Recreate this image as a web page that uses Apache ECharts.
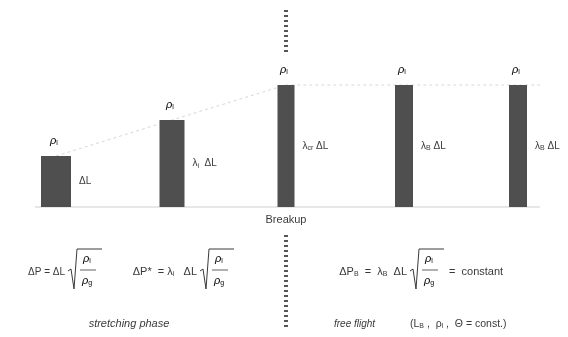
<!DOCTYPE html>
<html>
<head>
<meta charset="utf-8">
<script src="https://cdn.jsdelivr.net/npm/echarts@6/dist/echarts.min.js"></script>
<style>
  html, body { margin: 0; padding: 0; background: #fff; }
  #chart { width: 568px; height: 337px; }
</style>
</head>
<body>
<div id="chart"></div>
<script>
// ligament stages: column position, length and thickness (diagram units)
const stageX = [56, 172, 286, 404, 518];
const stageLength = [51, 87, 122, 122, 122];
const stageWidth = [30, 25, 17, 18, 18];
const topLabels = ['{i|ρ}{s|l}', '{i|ρ}{s|l}', '{i|ρ}{s|l}', '{i|ρ}{s|l}', '{i|ρ}{s|l}'];
const sideLabels = ['ΔL', 'λ{s|i}  ΔL', 'λ{s|cr} ΔL', 'λ{s|B} ΔL', 'λ{s|B} ΔL'];

// baseline and the breakup marker
const baseExtent = [35, 540];
const breakupX = 286;
const breakupUpper = [197, 155];
const breakupLower = [-28, -123];

const INK = '#3a3a3a';
const FONT = '"Liberation Sans", Arial, sans-serif';

const rich = {
  i: { fontSize: 11, fontStyle: 'italic', fontFamily: FONT, color: INK },
  s: { fontSize: 7, fontFamily: FONT, color: INK, verticalAlign: 'bottom', padding: [5, 0, 0, 0] }
};

const chart = echarts.init(document.getElementById('chart'), null, { renderer: 'canvas' });

// 公式: 前缀(右对齐到根号) + 根号(ρl/ρg) + 后缀
function formula(y, prefix, radX, size, suffix) {
  const els = [
    {
      type: 'text', x: radX - 3, y: y,
      style: { text: prefix, rich: rich, font: size + 'px ' + FONT, fill: INK, align: 'right', verticalAlign: 'middle' }
    },
    {
      type: 'polyline', x: radX, y: y - 23,
      shape: { points: [[0, 22], [3, 20], [6, 40], [9, 0], [34, 0]] },
      style: { stroke: INK, lineWidth: 1, fill: null }
    },
    {
      type: 'text', x: radX + 19, y: y - 13,
      style: { text: '{i|ρ}{s|l}', rich: rich, align: 'center', verticalAlign: 'middle' }
    },
    {
      type: 'line', shape: { x1: radX + 12, y1: y - 2, x2: radX + 28, y2: y - 2 },
      style: { stroke: INK, lineWidth: 0.8 }
    },
    {
      type: 'text', x: radX + 19, y: y + 9,
      style: { text: '{i|ρ}{s|g}', rich: rich, align: 'center', verticalAlign: 'middle' }
    }
  ];
  if (suffix) {
    els.push({
      type: 'text', x: radX + 39, y: y,
      style: { text: suffix, font: size + 'px ' + FONT, fill: INK, verticalAlign: 'middle' }
    });
  }
  return els;
}

const graphic = [
  {
    type: 'text', x: 286, y: 220,
    style: { text: 'Breakup', font: '11px ' + FONT, fill: INK, align: 'center', verticalAlign: 'middle' }
  },
  ...formula(272, 'ΔP = ΔL', 68, 10),
  ...formula(272, 'ΔP*  = λ{s|i}   ΔL', 200, 11),
  ...formula(272, 'ΔP{s|B}  =  λ{s|B}  ΔL', 410, 11, '=  constant'),
  {
    type: 'text', x: 129, y: 324,
    style: { text: 'stretching phase', font: 'italic 11px ' + FONT, fill: INK, align: 'center', verticalAlign: 'middle' }
  },
  {
    type: 'text', x: 334, y: 324,
    style: { text: 'free flight', font: 'italic 10px ' + FONT, fill: INK, verticalAlign: 'middle' }
  },
  {
    type: 'text', x: 410, y: 324,
    style: {
      text: '(L{s|B} ,  ρ{s|l} ,  Θ = const.)', rich: rich,
      font: '10.5px ' + FONT, fill: INK, verticalAlign: 'middle'
    }
  }
];

const columns = stageX.map((x, i) => [x, stageLength[i], stageWidth[i], i]);

chart.setOption({
  backgroundColor: '#fff',
  animation: false,
  grid: { left: 0, right: 0, top: 0, bottom: 0 },
  xAxis: { type: 'value', min: 0, max: 568, show: false },
  yAxis: { type: 'value', min: -130, max: 207, show: false },
  graphic: graphic,
  series: [
    {
      // faint guide through the column tops
      type: 'line',
      data: stageX.map((x, i) => [x, stageLength[i]]).concat([[baseExtent[1], stageLength[4]]]),
      symbol: 'none',
      silent: true,
      z: 1,
      lineStyle: { color: '#d8d8d8', width: 1, type: [3, 3] }
    },
    {
      type: 'line',
      data: [[baseExtent[0], 0], [baseExtent[1], 0]],
      symbol: 'none',
      silent: true,
      z: 1,
      lineStyle: { color: '#cfcfcf', width: 1.2 }
    },
    {
      type: 'line',
      data: breakupUpper.map(v => [breakupX, v]),
      symbol: 'none',
      silent: true,
      lineStyle: { color: '#555', width: 4, type: [2, 3] }
    },
    {
      type: 'line',
      data: breakupLower.map(v => [breakupX, v]),
      symbol: 'none',
      silent: true,
      lineStyle: { color: '#555', width: 4, type: [2, 3] }
    },
    {
      type: 'custom',
      z: 3,
      data: columns,
      renderItem: (params, api) => {
        const cx = api.value(0), len = api.value(1), w = api.value(2), idx = api.value(3);
        const tl = api.coord([cx - w / 2, len]);
        const br = api.coord([cx + w / 2, 0]);
        const mid = api.coord([cx + w / 2, len / 2]);
        return {
          type: 'group',
          children: [
            {
              type: 'rect',
              shape: { x: tl[0], y: tl[1], width: br[0] - tl[0], height: br[1] - tl[1] },
              style: { fill: '#4f4f4f' }
            },
            {
              type: 'text',
              x: (tl[0] + br[0]) / 2 - 2, y: tl[1] - 15,
              style: { text: topLabels[idx], rich: rich, align: 'center', verticalAlign: 'middle' }
            },
            {
              type: 'text',
              x: mid[0] + 8, y: mid[1],
              style: {
                text: sideLabels[idx], rich: rich,
                font: '10px ' + FONT, fill: INK, verticalAlign: 'middle'
              }
            }
          ]
        };
      }
    }
  ]
});
</script>
</body>
</html>
